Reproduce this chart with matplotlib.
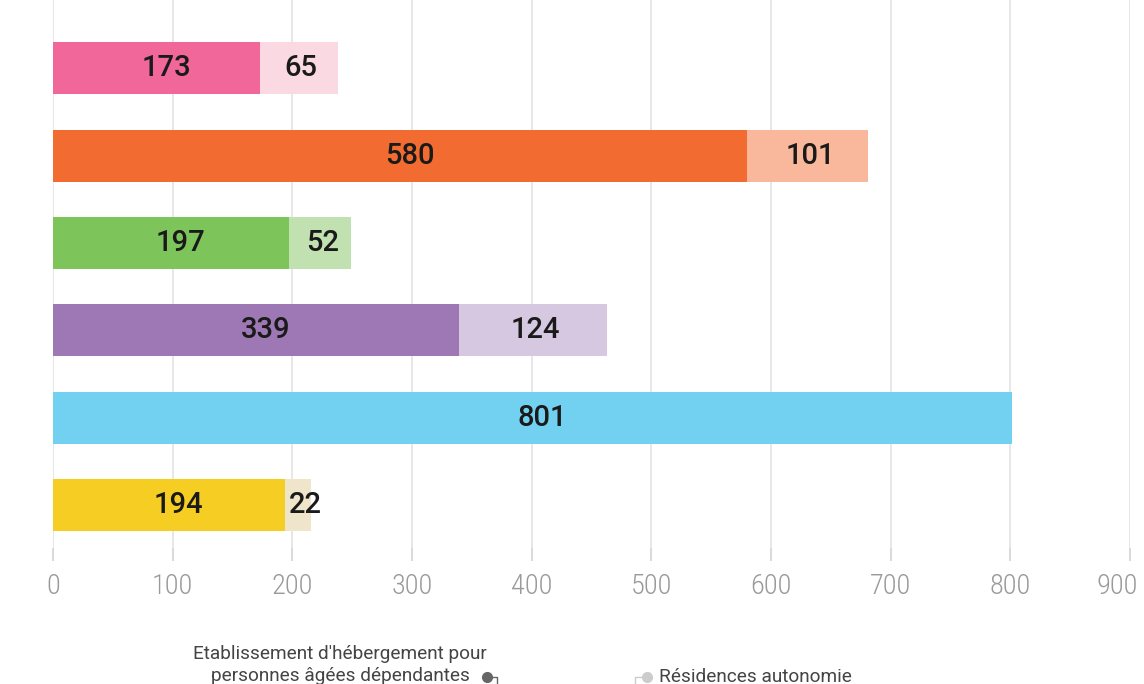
import matplotlib.pyplot as plt
from matplotlib.lines import Line2D
from matplotlib.transforms import offset_copy

ehpad = [173, 580, 197, 339, 801, 194]
residences = [65, 101, 52, 124, 0, 22]
dark_colors = ["#F2679A", "#F26B30", "#7DC45B", "#9E78B4", "#72D0F0", "#F6CD22"]
light_colors = ["#FBD9E3", "#F9B79B", "#C2E1B0", "#D7C8E2", "#D9F1FB", "#EFE5CB"]
xticks = [0, 100, 200, 300, 400, 500, 600, 700, 800, 900]
legend_labels = ["Etablissement d'hébergement pour\npersonnes âgées dépendantes", "Résidences autonomie"]

plt.rcParams['font.family'] = ['Roboto', 'DejaVu Sans']

fig = plt.figure(figsize=(11.44, 6.84), dpi=100)
ax = fig.add_axes([53 / 1144, 136 / 684, 1077 / 1144, 548 / 684])

pos = list(range(len(ehpad)))
ax.barh(pos, ehpad, height=0.595, color=dark_colors, linewidth=0)
ax.barh(pos, residences, left=ehpad, height=0.595, color=light_colors, linewidth=0)

for i in pos:
    ax.text(ehpad[i] / 2 + 8, i, str(ehpad[i]), ha='center', va='center',
            fontsize=21, fontweight='medium', color='#1a1a1a')
    if residences[i] > 0:
        ax.text(ehpad[i] + max(residences[i], 30) / 2 + 2, i, str(residences[i]), ha='center', va='center',
                fontsize=21, fontweight='medium', color='#1a1a1a')

ax.set_xlim(0, 900)
ax.set_ylim(5.49, -0.78)
ax.set_xticks(xticks)
ax.set_yticks([])
ax.grid(axis='x', color='#e0e0e0', linewidth=1.1)
ax.set_axisbelow(True)
for s in ax.spines.values():
    s.set_visible(False)
ax.tick_params(axis='x', length=9, color='#d0d0d0', width=1.1, pad=9)
labels = ax.get_xticklabels()
for lab in labels:
    lab.set_family(['Roboto Condensed', 'Liberation Sans Narrow', 'Roboto'])
    lab.set_fontweight('light')
    lab.set_fontsize(20.5)
    lab.set_color('#9a9a9a')
# last label pulled inside the figure
labels[-1].set_transform(offset_copy(labels[-1].get_transform(), fig=fig, x=-13, y=0, units='dots'))

# legend
fig.text(487 / 1144, 1 - 665 / 684, legend_labels[0], ha='right', va='center', multialignment='center',
         fontsize=13.7, color='#444444', linespacing=1.25)
fig.add_artist(Line2D([487 / 1144, 497 / 1144, 497 / 1144], [1 - 677 / 684, 1 - 677 / 684, 1 - 683 / 684],
                      transform=fig.transFigure, color='#666666', lw=1))
fig.add_artist(Line2D([487 / 1144], [1 - 677 / 684], transform=fig.transFigure,
                      marker='o', ms=7, color='#666666', lw=0))
fig.add_artist(Line2D([635 / 1144, 635 / 1144, 647 / 1144], [1 - 683 / 684, 1 - 677 / 684, 1 - 677 / 684],
                      transform=fig.transFigure, color='#cccccc', lw=1))
fig.add_artist(Line2D([647 / 1144], [1 - 677 / 684], transform=fig.transFigure,
                      marker='o', ms=7, color='#cccccc', lw=0))
fig.text(659 / 1144, 1 - 677 / 684, legend_labels[1], ha='left', va='center',
         fontsize=13.7, color='#444444')

fig.savefig("out.png", dpi=100)
